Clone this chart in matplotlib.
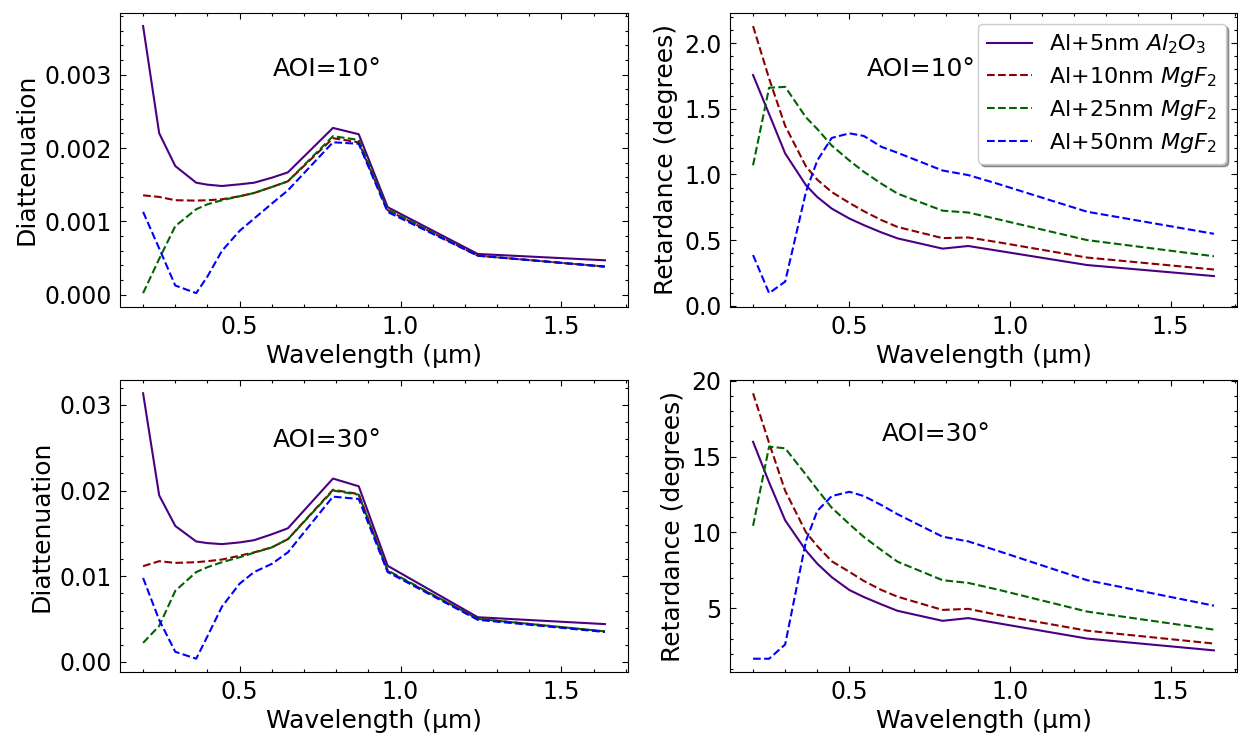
import matplotlib
matplotlib.use("Agg")
import matplotlib.pyplot as plt
from matplotlib.ticker import AutoMinorLocator

# wavelength grid (µm)
wavelength = [0.2, 0.25, 0.3, 0.365, 0.4, 0.445, 0.5, 0.545, 0.6, 0.65, 0.79, 0.87, 0.96, 1.24, 1.635]

labels = [r'Al+5nm $Al_2O_3$', r'Al+10nm $MgF_2$', r'Al+25nm $MgF_2$', r'Al+50nm $MgF_2$']

# Diattenuation, AOI = 10 deg
diat10_al2o3_5 = [0.003665, 0.002204, 0.001756, 0.001529, 0.001502, 0.001484, 0.001507, 0.001529, 0.001597, 0.00167, 0.002276, 0.00219, 0.001195, 0.000557, 0.000471]
diat10_mgf2_10 = [0.001357, 0.001335, 0.00129, 0.001285, 0.00129, 0.001303, 0.001344, 0.001389, 0.00147, 0.001548, 0.002136, 0.00208, 0.001154, 0.000534, 0.000385]
diat10_mgf2_25 = [0.000023, 0.00049, 0.000937, 0.001167, 0.001235, 0.00129, 0.001344, 0.001389, 0.00147, 0.001548, 0.002163, 0.002113, 0.001163, 0.000534, 0.000385]
diat10_mgf2_50 = [0.001131, 0.000633, 0.000127, 0.000023, 0.00025, 0.0006, 0.000873, 0.00104, 0.001244, 0.001425, 0.00208, 0.00206, 0.00113, 0.000534, 0.000385]

# Retardance (degrees), AOI = 10 deg
ret10_al2o3_5 = [1.757, 1.46, 1.16, 0.917, 0.828, 0.74, 0.664, 0.614, 0.558, 0.513, 0.435, 0.455, 0.42, 0.31, 0.226]
ret10_mgf2_10 = [2.13, 1.73, 1.37, 1.06, 0.96, 0.866, 0.783, 0.72, 0.652, 0.60, 0.515, 0.52, 0.485, 0.367, 0.276]
ret10_mgf2_25 = [1.07, 1.66, 1.667, 1.434, 1.346, 1.22, 1.106, 1.02, 0.929, 0.854, 0.724, 0.71, 0.66, 0.50, 0.377]
ret10_mgf2_50 = [0.386, 0.096, 0.184, 0.87, 1.106, 1.278, 1.313, 1.293, 1.21, 1.165, 1.03, 0.995, 0.93, 0.716, 0.548]

# Diattenuation, AOI = 30 deg
diat30_al2o3_5 = [0.03135, 0.01944, 0.01587, 0.01406, 0.01387, 0.01375, 0.01395, 0.01421, 0.0149, 0.0156, 0.0214, 0.0205, 0.01122, 0.00522, 0.00442]
diat30_mgf2_10 = [0.01118, 0.01176, 0.01156, 0.01164, 0.01176, 0.01195, 0.0124, 0.01279, 0.01337, 0.01433, 0.02009, 0.01959, 0.0106, 0.00503, 0.00357]
diat30_mgf2_25 = [0.00223, 0.0042, 0.0083, 0.01049, 0.01106, 0.01164, 0.01222, 0.01275, 0.01337, 0.01433, 0.0200, 0.01952, 0.01068, 0.00503, 0.00357]
diat30_mgf2_50 = [0.0098, 0.0049, 0.00119, 0.00038, 0.0030, 0.00645, 0.00914, 0.01049, 0.01145, 0.01279, 0.01929, 0.01902, 0.01049, 0.00492, 0.0035]

# Retardance (degrees), AOI = 30 deg
ret30_al2o3_5 = [15.98, 13.3, 10.8, 8.8, 7.94, 7.05, 6.2, 5.74, 5.25, 4.83, 4.17, 4.35, 4.02, 3.0, 2.22]
ret30_mgf2_10 = [19.18, 15.9, 12.75, 10.0, 9.1, 8.1, 7.4, 6.8, 6.2, 5.76, 4.89, 4.96, 4.57, 3.52, 2.67]
ret30_mgf2_25 = [10.44, 15.66, 15.55, 13.8, 12.83, 11.63, 10.55, 9.7, 8.83, 8.07, 6.85, 6.67, 6.24, 4.78, 3.59]
ret30_mgf2_50 = [1.67, 1.67, 2.61, 9.46, 11.42, 12.4, 12.68, 12.4, 11.8, 11.2, 9.72, 9.41, 8.8, 6.85, 5.17]

colors = ['#4B0082', '#8B0000', '#006400', '#0000FF']
styles = ['-', '--', '--', '--']

W, H, DPI = 1238, 736, 100
fig = plt.figure(figsize=(W / DPI, H / DPI), dpi=DPI)

def box(x0, y0, x1, y1):
    return [x0 / W, 1 - y1 / H, (x1 - x0) / W, (y1 - y0) / H]

ax_tl = fig.add_axes(box(120, 12.7, 628, 306.5))
ax_tr = fig.add_axes(box(730, 12.7, 1237, 306.5))
ax_bl = fig.add_axes(box(120, 380.0, 628, 672.0))
ax_br = fig.add_axes(box(730, 380.0, 1237, 672.0))

panels = [
    (ax_tl, [diat10_al2o3_5, diat10_mgf2_10, diat10_mgf2_25, diat10_mgf2_50], 'Diattenuation', 'AOI=10°', (0.30, 0.81)),
    (ax_tr, [ret10_al2o3_5, ret10_mgf2_10, ret10_mgf2_25, ret10_mgf2_50], 'Retardance (degrees)', 'AOI=10°', (0.269, 0.81)),
    (ax_bl, [diat30_al2o3_5, diat30_mgf2_10, diat30_mgf2_25, diat30_mgf2_50], 'Diattenuation', 'AOI=30°', (0.30, 0.795)),
    (ax_br, [ret30_al2o3_5, ret30_mgf2_10, ret30_mgf2_25, ret30_mgf2_50], 'Retardance (degrees)', 'AOI=30°', (0.30, 0.815)),
]

for ax, series, ylab, txt, pos in panels:
    for vals, c, ls, lab in zip(series, colors, styles, labels):
        ax.plot(wavelength, vals, color=c, linestyle=ls, linewidth=1.5, label=lab)
    ax.set_xlabel('Wavelength (µm)', fontsize=18, labelpad=3.5)
    ax.set_ylabel(ylab, fontsize=18, labelpad=4.5)
    ax.text(pos[0], pos[1], txt, transform=ax.transAxes, fontsize=18, ha='left', va='center')
    ax.set_xticks([0.5, 1.0, 1.5])
    ax.xaxis.set_minor_locator(AutoMinorLocator())
    ax.yaxis.set_minor_locator(AutoMinorLocator())
    ax.tick_params(which='both', direction='in', top=True, right=True, labelsize=17, pad=6)
    ax.tick_params(which='major', length=4.5, width=0.8)
    ax.tick_params(which='minor', length=2.3, width=0.8)

ax_tr.legend(loc='upper right', fontsize=16, shadow=True, fancybox=True, framealpha=1.0,
             labelspacing=0.4)

fig.savefig('out.png', dpi=DPI)
